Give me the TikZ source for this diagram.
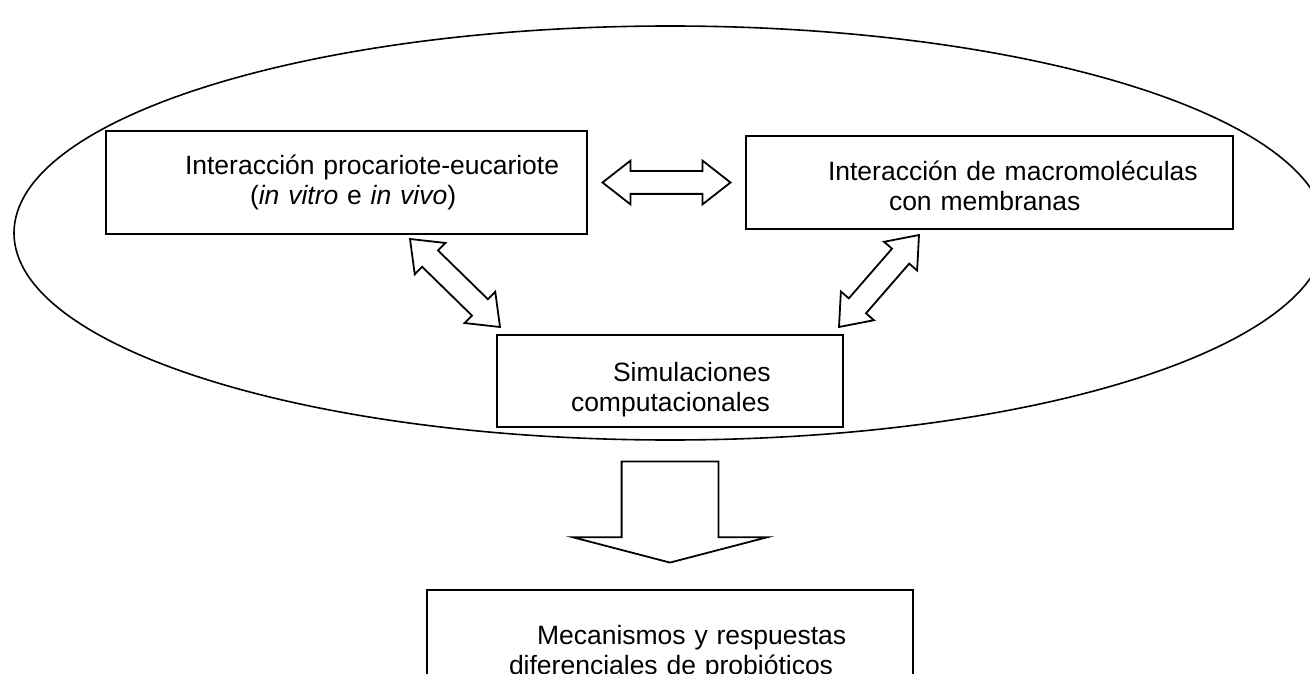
\documentclass[tikz,border=0pt]{standalone}
\usepackage{fontspec}
\setmainfont{Liberation Sans}
\usetikzlibrary{shapes.geometric,shapes.arrows,calc}
\pgfdeclarelayer{bg}
\pgfsetlayers{bg,main}

\begin{document}
\begin{tikzpicture}[x=1pt,y=-1pt,
        caja/.style={draw, line width=2pt, fill=white, rectangle, inner sep=0pt, align=left,
                font=\fontsize{26.5}{30}\selectfont},
        flechadoble/.style={draw, line width=1.8pt, fill=white, double arrow, inner xsep=0pt,
                inner ysep=10.5pt, minimum width=42pt, double arrow head extend=10.5pt,
                double arrow tip angle=76},
        flechaabajo/.style={draw, line width=1.8pt, fill=white, single arrow, inner xsep=0pt,
                inner ysep=47.5pt, minimum width=192pt, minimum height=101pt,
                single arrow head extend=48.5pt, single arrow tip angle=150.8, rotate=-90}]
        \useasboundingbox (0,0) rectangle (1310,674);
        \clip (0,0) rectangle (1310,674);
        \node (inter) [caja, text width=481pt, text height=44pt, text depth=59pt] at (346.5, 182.5)
                {\hspace*{79pt}Interacción procariote-eucariote\\
                 \hspace*{144pt}(\textit{in vitro} e \textit{in vivo})};
        \node (macro) [caja, text width=487pt, text height=45pt, text depth=48pt] at (989.5, 182.5)
                {\hspace*{82pt}Interacción de macromoléculas\\
                 \hspace*{143pt}con membranas};
        \node (sim) [caja, text width=346pt, text height=46pt, text depth=46pt] at (670, 381)
                {\hspace*{116pt}Simulaciones\\
                 \hspace*{74pt}computacionales};
        \node (meca) [caja, text width=486pt, text height=54pt, text depth=68pt] at (670, 651)
                {\hspace*{110pt}Mecanismos y respuestas\\
                 \hspace*{82pt}diferenciales de probióticos};
        \coordinate (a1) at ($(inter.south west)+(305,4)$);
        \coordinate (a2) at ($(sim.north west)+(4,-7)$);
        \coordinate (b1) at ($(macro.south west)+(174,5)$);
        \coordinate (b2) at ($(sim.north east)+(-5,-7)$);
        \path (inter.east) -- (macro.west) node (h) [flechadoble, midway, minimum height=128pt] {};
        \path let \p1=($(a2)-(a1)$), \n1={veclen(\x1,\y1)} in
                (a1) -- (a2) node (d1) [flechadoble, midway, sloped, minimum height=\n1] {};
        \path let \p1=($(b2)-(b1)$), \n1={veclen(\x1,\y1)} in
                (b1) -- (b2) node (d2) [flechadoble, midway, sloped, minimum height=\n1] {};
        \path (sim.south) -- (meca.north) node (v) [flechaabajo, pos=0.483] {};
        \begin{pgfonlayer}{bg}
                \node (grupo) [draw, line width=1.6pt, ellipse, inner sep=0pt,
                        minimum width=1312pt, minimum height=414pt] at (670, 233) {};
        \end{pgfonlayer}
\end{tikzpicture}
\end{document}
